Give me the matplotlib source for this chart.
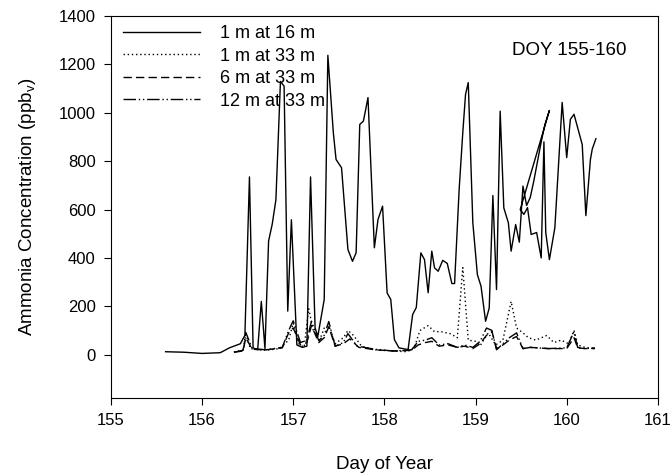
import matplotlib
matplotlib.use("Agg")
import matplotlib.pyplot as plt

plt.rcParams["font.family"] = ["Liberation Sans", "DejaVu Sans"]

# 1 m at 16 m (solid)
doy_16 = [155.60, 155.80, 156.00, 156.20, 156.30, 156.42, 156.47, 156.52, 156.56, 156.61,
          156.65, 156.69, 156.73, 156.77, 156.81, 156.86, 156.90, 156.94, 156.98, 157.04,
          157.10, 157.15, 157.19, 157.24, 157.27, 157.34, 157.38, 157.44, 157.47, 157.53,
          157.60, 157.65, 157.69, 157.73, 157.77, 157.82, 157.89, 157.93, 157.98, 158.03,
          158.07, 158.11, 158.16, 158.26, 158.31, 158.35, 158.40, 158.44, 158.48, 158.52,
          158.55, 158.59, 158.64, 158.69, 158.74, 158.77, 158.82, 158.86, 158.89, 158.92,
          158.97, 159.02, 159.06, 159.11, 159.15, 159.19, 159.23, 159.27, 159.31, 159.36,
          159.39, 159.44, 159.48, 159.52, 159.56, 159.60, 159.64, 159.68, 159.72, 159.76,
          159.81, 159.49, 159.53, 159.57, 159.61, 159.67, 159.72, 159.75, 159.77, 159.81,
          159.87, 159.95, 160.00, 160.04, 160.08, 160.17, 160.21, 160.26, 160.28, 160.32]
conc_16 = [12, 10, 5, 8, 28, 45, 80, 735, 28, 20,
           220, 25, 470, 540, 640, 1130, 1110, 180, 558, 40,
           30, 35, 735, 110, 76, 228, 1238, 918, 807, 773,
           435, 386, 421, 952, 966, 1063, 442, 559, 614, 255,
           228, 62, 28, 21, 166, 195, 421, 393, 256, 428,
           359, 345, 390, 377, 294, 294, 683, 918, 1076, 1125,
           546, 331, 283, 138, 193, 658, 269, 1007, 607, 545,
           428, 538, 465, 697, 617, 650, 720, 800, 880, 950,
           1010, 600, 580, 608, 497, 505, 400, 880, 505, 393,
           525, 1043, 815, 973, 994, 869, 575, 807, 850, 893]

# 1 m at 33 m (dotted)
doy_1m = [156.35, 156.45, 156.48, 156.53, 156.70, 156.85, 156.95, 157.00, 157.06, 157.12,
          157.17, 157.22, 157.29, 157.34, 157.39, 157.46, 157.55, 157.60, 157.66, 157.75,
          157.90, 158.10, 158.25, 158.33, 158.39, 158.48, 158.55, 158.62, 158.72, 158.80,
          158.86, 158.92, 159.00, 159.05, 159.14, 159.22, 159.30, 159.39, 159.45, 159.52,
          159.58, 159.66, 159.78, 159.86, 159.94, 160.02, 160.08, 160.12, 160.20, 160.31]
conc_1m = [10, 20, 85, 25, 18, 25, 60, 130, 45, 30,
           190, 100, 60, 110, 120, 45, 70, 100, 80, 35,
           20, 15, 12, 30, 100, 120, 95, 95, 87, 70,
           360, 60, 55, 37, 90, 40, 60, 220, 110, 90,
           70, 60, 79, 50, 60, 45, 100, 40, 30, 25]

# 6 m at 33 m (dashed)
doy_6m = [156.35, 156.45, 156.48, 156.55, 156.70, 156.88, 156.95, 157.00, 157.08, 157.15,
          157.20, 157.28, 157.34, 157.39, 157.46, 157.55, 157.62, 157.72, 157.90, 158.10,
          158.30, 158.37, 158.45, 158.52, 158.60, 158.70, 158.80, 158.88, 158.97, 159.05,
          159.12, 159.18, 159.23, 159.30, 159.37, 159.45, 159.52, 159.60, 159.80, 160.00,
          160.08, 160.12, 160.20, 160.31]
conc_6m = [10, 15, 70, 22, 20, 28, 90, 110, 40, 50,
           120, 50, 70, 115, 35, 45, 65, 30, 20, 15,
           18, 40, 50, 55, 35, 40, 30, 35, 25, 45,
           80, 95, 25, 40, 60, 75, 25, 30, 25, 25,
           70, 28, 25, 25]

# 12 m at 33 m (dash-dot-dot)
doy_12m = [156.35, 156.45, 156.48, 156.55, 156.70, 156.88, 156.95, 157.00, 157.08, 157.15,
           157.20, 157.28, 157.34, 157.39, 157.46, 157.55, 157.60, 157.70, 157.90, 158.10,
           158.30, 158.37, 158.45, 158.52, 158.60, 158.70, 158.80, 158.88, 158.97, 159.05,
           159.12, 159.18, 159.23, 159.30, 159.37, 159.45, 159.52, 159.60, 159.80, 160.00,
           160.08, 160.12, 160.20, 160.31]
conc_12m = [10, 18, 92, 25, 20, 30, 100, 140, 50, 60,
            138, 58, 80, 137, 35, 50, 87, 35, 22, 15,
            20, 55, 60, 70, 40, 45, 30, 40, 30, 55,
            110, 100, 20, 45, 70, 90, 25, 30, 25, 28,
            95, 30, 25, 28]

fig = plt.figure(figsize=(6.72, 4.74), dpi=100)
ax = fig.add_axes([0.165, 0.160, 0.814, 0.806])

ax.plot(doy_16, conc_16, color="black", lw=1.0, label="1 m at 16 m")
ax.plot(doy_1m, conc_1m, color="black", lw=1.0, linestyle=(0, (1, 2)), label="1 m at 33 m")
ax.plot(doy_6m, conc_6m, color="black", lw=1.0, linestyle=(0, (6, 3)), label="6 m at 33 m")
ax.plot(doy_12m, conc_12m, color="black", lw=1.0,
        linestyle=(0, (9, 2, 1, 2, 1, 2)), label="12 m at 33 m")

ax.set_xlim(155, 161)
ax.set_ylim(-180, 1400)
ax.set_xticks([155, 156, 157, 158, 159, 160, 161])
ax.set_yticks([0, 200, 400, 600, 800, 1000, 1200, 1400])
ax.tick_params(direction="out", length=5, labelsize=12, pad=6, top=False, right=False)

ax.set_xlabel("Day of Year", fontsize=13.5, labelpad=20)
ax.set_ylabel("Ammonia Concentration (ppb$_\\mathregular{v}$)", fontsize=13.5, labelpad=15)

ax.text(0.943, 0.91, "DOY 155-160", transform=ax.transAxes, ha="right", va="center",
        fontsize=13.5)

ax.legend(loc="upper left", frameon=False, fontsize=13, handlelength=4.3,
          handletextpad=1.1, labelspacing=0.30, borderaxespad=0.0,
          borderpad=0.3, bbox_to_anchor=(0.012, 0.99))

fig.savefig("out.png", dpi=100)
